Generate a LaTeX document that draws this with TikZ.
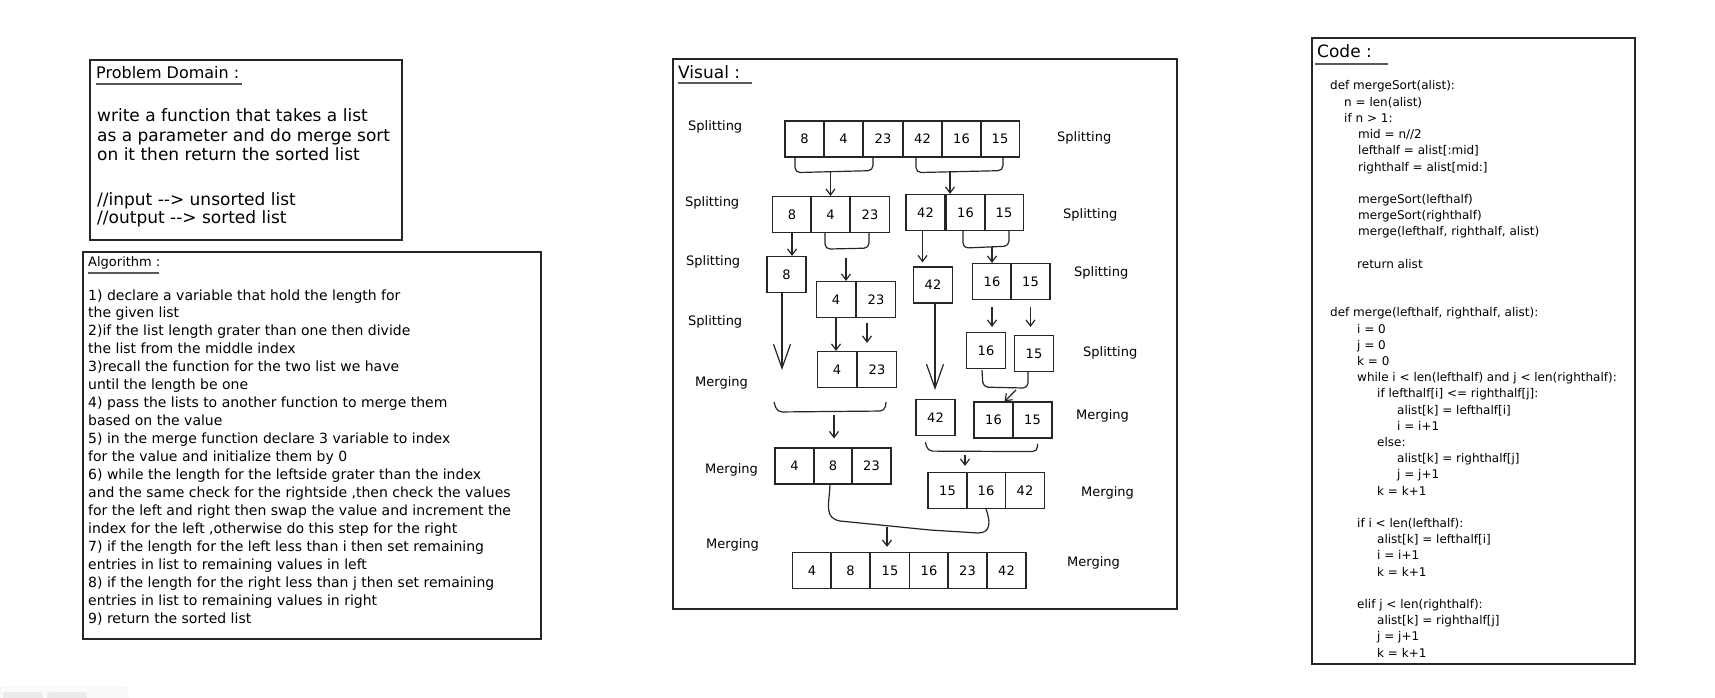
\documentclass[tikz,border=0pt]{standalone}
\usepackage{fontspec}
\setmainfont{DejaVu Sans}
\usetikzlibrary{arrows.meta,calc}
\begin{document}
\begin{tikzpicture}[x=1pt,y=-1pt,
  box/.style={draw=black!85, line width=1.3pt},
  cell/.style={draw=black!85, line width=1.2pt, minimum width=39pt, minimum height=36pt, inner sep=0pt, font=\fontsize{13}{15}\selectfont},
  lbl/.style={anchor=west, inner sep=0pt, font=\fontsize{13}{15}\selectfont},
  txt/.style={anchor=base west, inner sep=0pt},
  pdtxt/.style={txt, font=\fontsize{17}{21}\selectfont},
  algtxt/.style={txt, font=\fontsize{14}{17}\selectfont},
  codetxt/.style={txt, font=\fontsize{12}{14}\selectfont},
  conn/.style={draw=black!85, line width=1.2pt},
  arr/.style={conn, -{Straight Barb[length=6pt,width=9pt]}},
  bigarr/.style={conn, -{Straight Barb[length=24pt,width=17pt]}},
  uline/.style={draw=black!65, line width=2pt},
  brace/.style={conn, rounded corners=5pt}]
\useasboundingbox (0,0) rectangle (1715,698);
\fill[white] (0,0) rectangle (1715,698);

% ---------- Problem Domain ----------
\draw[box] (90,60) rectangle (402,240);
\node[txt, font=\fontsize{16}{19}\selectfont] (pdt) at (96,79) {Problem Domain :};
\draw[uline] (96,84) -- (242,84);
\node[pdtxt] (pd1) at (97,122) {write a function that takes a list};
\node[pdtxt] (pd2) at (97,141) {as a parameter and do merge sort};
\node[pdtxt] (pd3) at (97,160) {on it then return the sorted list};
\node[pdtxt] (pd4) at (97,205) {//input {-}{-}> unsorted list};
\node[pdtxt] (pd5) at (97,223) {//output {-}{-}> sorted list};

% ---------- Algorithm ----------
\draw[box] (83,252) rectangle (541,639);
\node[txt, font=\fontsize{13}{16}\selectfont] (alt) at (88,266) {Algorithm :};
\draw[uline] (88,273) -- (159,273);
\foreach \t [count=\i from 0] in {
  {1) declare a variable that hold the length for},
  {the given list},
  {2)if the list length grater than one then divide},
  {the list from the middle index},
  {3)recall the function for the two list we have},
  {until the length be one},
  {4) pass the lists to another function to merge them},
  {based on the value},
  {5) in the merge function declare 3 variable to index},
  {for the value and initialize them by 0},
  {6) while the length for the leftside grater than the index},
  {and the same check for the rightside ,then check the values},
  {for the left and right then swap the value and increment the},
  {index for the left ,otherwise do this step for the right},
  {7) if the length for the left less than i then set remaining},
  {entries in list to remaining values in left},
  {8) if the length for the right less than j then set remaining},
  {entries in list to remaining values in right},
  {9) return the sorted list}}
  \node[algtxt] (al\i) at (88,{300+\i*17.95}) {\t};

% ---------- Visual ----------
\draw[box] (673,59) rectangle (1177,609);
\node[txt, font=\fontsize{17}{20}\selectfont] (vt) at (678,79) {Visual :};
\draw[uline] (678,83) -- (752,83);

% labels
\node[lbl] (ls1) at (688,127) {Splitting};
\node[lbl] (ls2) at (685,203) {Splitting};
\node[lbl] (ls3) at (686,262) {Splitting};
\node[lbl] (ls4) at (688,322) {Splitting};
\node[lbl] (lm1) at (695,383) {Merging};
\node[lbl] (lm2) at (705,470) {Merging};
\node[lbl] (lm3) at (706,545) {Merging};
\node[lbl] (rs1) at (1057,138) {Splitting};
\node[lbl] (rs2) at (1063,215) {Splitting};
\node[lbl] (rs3) at (1074,273) {Splitting};
\node[lbl] (rs4) at (1083,353) {Splitting};
\node[lbl] (rm1) at (1076,416) {Merging};
\node[lbl] (rm2) at (1081,493) {Merging};
\node[lbl] (rm3) at (1067,563) {Merging};

% row 1
\node[cell] (r1a) at (804.5,139) {8};
\node[cell] (r1b) at (843.5,139) {4};
\node[cell] (r1c) at (883,139) {23};
\node[cell] (r1d) at (922.5,139) {42};
\node[cell] (r1e) at (961.5,139) {16};
\node[cell] (r1f) at (1000,139) {15};
% row 2
\node[cell] (r2a) at (792,214.5) {8};
\node[cell] (r2b) at (830.5,214.5) {4};
\node[cell] (r2c) at (870,214.5) {23};
\node[cell] (r2d) at (925.5,212.5) {42};
\node[cell] (r2e) at (965.5,212.5) {16};
\node[cell] (r2f) at (1004,212.5) {15};
% row 3
\node[cell] (r3a) at (786.5,274.5) {8};
\node[cell] (r3b) at (836,299.5) {4};
\node[cell] (r3c) at (876,299.5) {23};
\node[cell] (r3d) at (933,285) {42};
\node[cell] (r3e) at (992,281.5) {16};
\node[cell] (r3f) at (1030.5,281.5) {15};
% row 4
\node[cell] (r4a) at (837,369.5) {4};
\node[cell] (r4b) at (877,369.5) {23};
\node[cell] (r4c) at (986,350.5) {16};
\node[cell] (r4d) at (1034,353.5) {15};
% row 5
\node[cell] (r5a) at (935.5,417.5) {42};
\node[cell] (r5b) at (993.5,420) {16};
\node[cell] (r5c) at (1032.5,420) {15};
% row 6
\node[cell] (r6a) at (794.5,466) {4};
\node[cell] (r6b) at (833,466) {8};
\node[cell] (r6c) at (871.5,466) {23};
\node[cell] (r6d) at (947.5,490.5) {15};
\node[cell] (r6e) at (986,490.5) {16};
\node[cell] (r6f) at (1025,490.5) {42};
% row 7
\node[cell] (r7a) at (812,570.5) {4};
\node[cell] (r7b) at (850.5,570.5) {8};
\node[cell] (r7c) at (890,570.5) {15};
\node[cell] (r7d) at (929,570.5) {16};
\node[cell] (r7e) at (967.5,570.5) {23};
\node[cell] (r7f) at (1006.5,570.5) {42};

% connectors: row1 -> row2
\draw[brace] ($(r1a.south)+(-9.5,0)$) -- ++(0,15) -- ($(r1c.south)+(-10,13)$) -- ($(r1c.south)+(-10,0)$);
\coordinate (b1) at (830.5,172);
\draw[arr] (b1) -- (r2b.north);
\draw[brace] ($(r1d.south)+(-6.5,0)$) -- ++(0,15) -- ($(r1f.south)+(3,13)$) -- ($(r1f.south)+(3,0)$);
\coordinate (b2) at (950,172);
\draw[arr] (b2) -- (b2 |- r2e.north);

% row2 -> row3
\draw[arr] (r2a.south) -- (r2a.south |- r3a.north);
\draw[brace] ($(r2b.south)+(-5.5,0)$) -- ++(0,16) -- ($(r2c.south)+(-1,15)$) -- ($(r2c.south)+(-1,0)$);
\coordinate (b3) at (846,258);
\draw[arr] (b3) -- (b3 |- r3b.north);
\draw[arr] ($(r2d.south)+(-3,0)$) -- ($(r2d.south |- r3d.north)+(-3,-4)$);
\draw[brace] ($(r2e.south)+(-2.5,0)$) -- ++(0,17) -- ($(r2f.south)+(5,15)$) -- ($(r2f.south)+(5,0)$);
\coordinate (b4) at (992,247);
\draw[arr] (b4) -- (r3e.north);

% row3 -> row4
\coordinate (e8) at (782,370);
\draw[bigarr] ($(r3a.south)+(-4.5,0)$) -- (e8);
\draw[arr] (r3b.south) -- (r3b.south |- r4a.north);
\draw[arr] ($(r3c.south)+(-9,5)$) -- ($(r3c.south |- r4b.north)+(-9,-8)$);
\coordinate (e42) at (935,390);
\draw[bigarr] ($(r3d.south)+(2,0)$) -- (e42);
\draw[arr] ($(r3e.south)+(0,7)$) -- ($(r3e.south |- r4c.north)+(0,-5)$);
\draw[arr] ($(r3f.south)+(0,7)$) -- ($(r3f.south |- r4c.north)+(0,-5)$);

% row4 -> row6 (left merge)
\draw[brace] (774,402) -- (777,412) -- (885,411) -- (886,402);
\coordinate (b5) at (834,415);
\draw[arr] (b5) -- ($(b5 |- r6b.north)+(0,-9)$);
% row4 right -> row5
\draw[brace] ($(r4c.south)+(-4,1)$) -- ++(1,17) -- ($(r4d.south)+(-6,16)$) -- ($(r4d.south)+(-6,0)$);
\coordinate (b6) at (1016,390);
\draw[arr] (b6) -- ($(r5b.north)+(11,0)$);
% row5 -> row6
\draw[brace] ($(r5a.south)+(-10,6)$) -- ++(2,9) -- ($(r5c.south)+(5,13)$) -- ($(r5c.south)+(5,5)$);
\coordinate (b7) at (965,455);
\draw[arr] (b7) -- ($(b7 |- r6d.north)+(0,-6)$);

% row6 -> row7 (final merge)
\draw[conn] ($(r6b.south)+(-3,0)$) .. controls (829,505) and (824,518) .. (840,521)
  -- (930,530) -- (978,533) .. controls (992,533) and (990,520) .. (r6e.south);
\coordinate (b8) at (887,527);
\draw[arr] (b8) -- ($(b8 |- r7c.north)+(0,-5)$);

% ---------- Code ----------
\draw[box] (1312,38) rectangle (1635,664);
\node[txt, font=\fontsize{17}{20}\selectfont] (ct) at (1317,58) {Code :};
\draw[uline] (1315,64) -- (1388,64);
\node[codetxt] (c0)  at (1330,90)    {def mergeSort(alist):};
\node[codetxt] (c1)  at (1344,106.2) {n = len(alist)};
\node[codetxt] (c2)  at (1344,122.4) {if n > 1:};
\node[codetxt] (c3)  at (1358,138.6) {mid = n//2};
\node[codetxt] (c4)  at (1358,154.8) {lefthalf = alist[:mid]};
\node[codetxt] (c5)  at (1358,171)   {righthalf = alist[mid:]};
\node[codetxt] (c7)  at (1358,203.4) {mergeSort(lefthalf)};
\node[codetxt] (c8)  at (1358,219.6) {mergeSort(righthalf)};
\node[codetxt] (c9)  at (1358,235.8) {merge(lefthalf, righthalf, alist)};
\node[codetxt] (c11) at (1357,268.2) {return alist};
\node[codetxt] (c14) at (1330,316.8) {def merge(lefthalf, righthalf, alist):};
\node[codetxt] (c15) at (1357,333)   {i = 0};
\node[codetxt] (c16) at (1357,349.2) {j = 0};
\node[codetxt] (c17) at (1357,365.4) {k = 0};
\node[codetxt] (c18) at (1357,381.6) {while i < len(lefthalf) and j < len(righthalf):};
\node[codetxt] (c19) at (1377,397.8) {if lefthalf[i] <= righthalf[j]:};
\node[codetxt] (c20) at (1397,414)   {alist[k] = lefthalf[i]};
\node[codetxt] (c21) at (1397,430.2) {i = i+1};
\node[codetxt] (c22) at (1377,446.4) {else:};
\node[codetxt] (c23) at (1397,462.6) {alist[k] = righthalf[j]};
\node[codetxt] (c24) at (1397,478.8) {j = j+1};
\node[codetxt] (c25) at (1377,495)   {k = k+1};
\node[codetxt] (c27) at (1357,527.4) {if i < len(lefthalf):};
\node[codetxt] (c28) at (1377,543.6) {alist[k] = lefthalf[i]};
\node[codetxt] (c29) at (1377,559.8) {i = i+1};
\node[codetxt] (c30) at (1377,576)   {k = k+1};
\node[codetxt] (c32) at (1357,608.4) {elif j < len(righthalf):};
\node[codetxt] (c33) at (1377,624.6) {alist[k] = righthalf[j]};
\node[codetxt] (c34) at (1377,640.8) {j = j+1};
\node[codetxt] (c35) at (1377,657)   {k = k+1};

% ---------- bottom-left UI remnant ----------
\filldraw[fill=black!2, draw=black!8, rounded corners=3pt] (0,687) rectangle (128,702);
\fill[black!8, rounded corners=3pt] (3,692) rectangle (43,702);
\fill[black!8, rounded corners=3pt] (47,692) rectangle (87,702);
\end{tikzpicture}
\end{document}
